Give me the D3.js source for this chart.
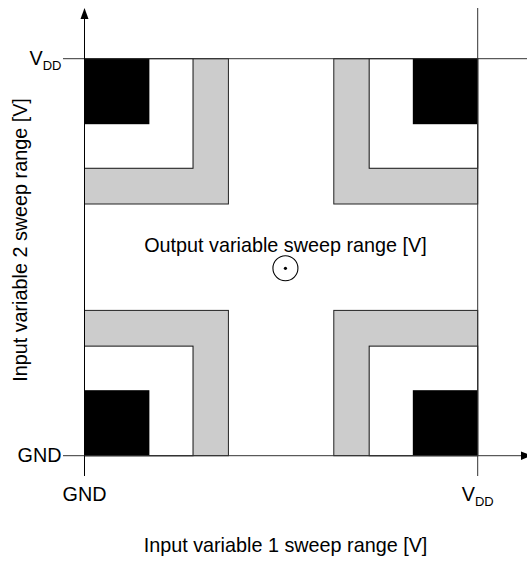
<!DOCTYPE html>
<html>
<head>
<meta charset="utf-8">
<script src="https://cdn.jsdelivr.net/npm/d3@7"></script>
<style>
  html, body { margin: 0; padding: 0; background: #fff; }
  svg { display: block; }
  text { font-family: "Liberation Sans", Arial, sans-serif; fill: #000; }
</style>
</head>
<body>
<div id="chart"></div>
<script>
// Normalised voltage axis: 0 = GND, 1 = VDD
const tickValues = [0, 1];
const tickLabels = ["GND", "VDD"];

// Corners of the sweep plane (input 1, input 2)
const cornerX = [0, 1, 0, 1];
const cornerY = [1, 1, 0, 0];

// Nested zones drawn at each corner, from outermost to innermost
const zoneNames = ["transition", "margin", "saturated"];
const zoneSizes = [0.366, 0.276, 0.165];

// Output sweep marker position (input 1, input 2)
const outputPoint = [0.511, 0.472];
const outputLabel = "Output variable sweep range [V]";
const xTitle = "Input variable 1 sweep range [V]";
const yTitle = "Input variable 2 sweep range [V]";

const width = 527, height = 561;
const x = d3.scaleLinear().domain([0, 1]).range([84.5, 477.7]);
const y = d3.scaleLinear().domain([0, 1]).range([455.7, 58.7]);

const zoneStyle = {
  transition: { fill: "#cccccc", stroke: "#222" },
  margin: { fill: "#ffffff", stroke: "#111" },
  saturated: { fill: "#000000", stroke: "none" }
};

const svg = d3.select("#chart").append("svg")
  .attr("width", width).attr("height", height)
  .attr("viewBox", [0, 0, width, height]);

svg.append("rect").attr("width", width).attr("height", height).attr("fill", "#fff");

// Corner zones
const zones = [];
cornerX.forEach((cx, i) => {
  const cy = cornerY[i];
  zoneNames.forEach((name, j) => {
    const s = zoneSizes[j];
    const x0 = cx === 0 ? 0 : 1 - s, x1 = cx === 0 ? s : 1;
    const y0 = cy === 0 ? 0 : 1 - s, y1 = cy === 0 ? s : 1;
    zones.push({ name, x0, x1, y0, y1 });
  });
});

svg.append("g").selectAll("rect").data(zones).join("rect")
  .attr("x", d => x(d.x0))
  .attr("y", d => y(d.y1))
  .attr("width", d => x(d.x1) - x(d.x0))
  .attr("height", d => y(d.y0) - y(d.y1))
  .attr("fill", d => zoneStyle[d.name].fill)
  .attr("stroke", d => zoneStyle[d.name].stroke)
  .attr("stroke-width", 1);

// Reference lines at VDD (horizontal and vertical)
const g = svg.append("g").attr("stroke", "#333").attr("stroke-width", 1).attr("fill", "none");
g.append("line").attr("x1", 63).attr("x2", width).attr("y1", y(1)).attr("y2", y(1));
g.append("line").attr("x1", x(1)).attr("x2", x(1)).attr("y1", 8).attr("y2", 476);
// GND tick on the left
g.append("line").attr("x1", 63).attr("x2", x(0)).attr("y1", y(0)).attr("y2", y(0));

// Main axes with arrows
const ax = svg.append("g").attr("stroke", "#000").attr("stroke-width", 1);
ax.append("line").attr("x1", x(0)).attr("x2", x(0)).attr("y1", 14).attr("y2", 476);
ax.append("line").attr("x1", x(0)).attr("x2", 524).attr("y1", y(0)).attr("y2", y(0)).attr("stroke", "#333");
svg.append("path")
  .attr("d", `M${x(0)},8 L${x(0) - 4},19 L${x(0) + 4},19 Z`)
  .attr("fill", "#000");
svg.append("path")
  .attr("d", `M532,${y(0)} L521,${y(0) - 4.2} L521,${y(0) + 4.2} Z`)
  .attr("fill", "#000");

// Tick labels
function label(sel, txt) {
  if (txt === "VDD") {
    sel.append("tspan").text("V");
    sel.append("tspan").attr("font-size", 13).attr("dy", 5).text("DD");
  } else {
    sel.text(txt);
  }
}
const fs = 19.8;
tickValues.forEach((v, i) => {
  // y-axis labels
  svg.append("text")
    .attr("x", 61.5).attr("y", y(v) + (v === 0 ? 6 : 6.5))
    .attr("text-anchor", "end").attr("font-size", fs)
    .call(label, tickLabels[i]);
  // x-axis labels
  svg.append("text")
    .attr("x", x(v)).attr("y", 501)
    .attr("text-anchor", "middle").attr("font-size", fs)
    .call(label, tickLabels[i]);
});

// Output sweep marker
svg.append("text")
  .attr("x", 285.5).attr("y", 252)
  .attr("text-anchor", "middle").attr("font-size", fs)
  .text(outputLabel);
svg.append("circle")
  .attr("cx", x(outputPoint[0])).attr("cy", y(outputPoint[1])).attr("r", 12.5)
  .attr("fill", "none").attr("stroke", "#000").attr("stroke-width", 1.1);
svg.append("circle")
  .attr("cx", x(outputPoint[0])).attr("cy", y(outputPoint[1])).attr("r", 1.6)
  .attr("fill", "#000");

// Axis titles
svg.append("text")
  .attr("x", 285.5).attr("y", 551.5)
  .attr("text-anchor", "middle").attr("font-size", fs)
  .text(xTitle);
svg.append("text")
  .attr("transform", "translate(27.3,240) rotate(-90)")
  .attr("text-anchor", "middle").attr("font-size", fs)
  .text(yTitle);
</script>
</body>
</html>
